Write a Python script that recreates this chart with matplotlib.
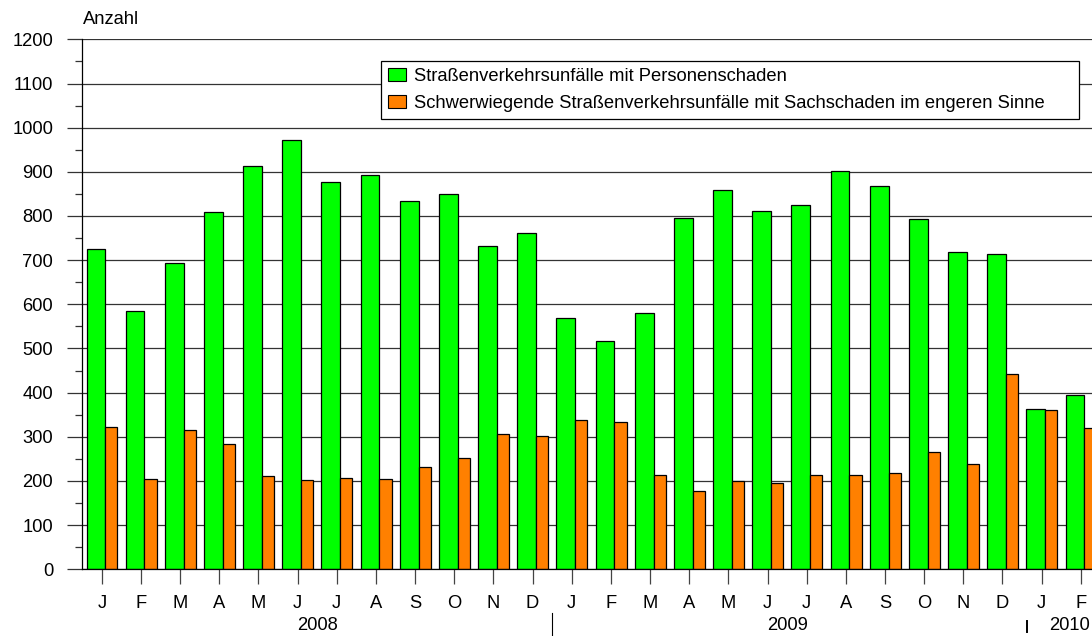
import matplotlib
matplotlib.use("Agg")
import matplotlib.pyplot as plt
from matplotlib.patches import Patch
from matplotlib.ticker import MultipleLocator

plt.rcParams['font.family'] = ['Liberation Sans', 'DejaVu Sans']

# ---- data ----
months = ["J", "F", "M", "A", "M", "J", "J", "A", "S", "O", "N", "D",
          "J", "F", "M", "A", "M", "J", "J", "A", "S", "O", "N", "D",
          "J", "F"]
personen = [725, 584, 694, 808, 914, 972, 876, 893, 834, 849, 732, 761,
            568, 518, 581, 795, 860, 811, 824, 902, 869, 793, 718, 713,
            362, 395]
sachschaden = [321, 205, 315, 283, 210, 202, 207, 205, 232, 253, 306, 301,
               338, 333, 214, 178, 199, 195, 213, 213, 218, 265, 239, 441,
               360, 319]
years = ["2008", "2009", "2010"]
year_pos = [5.5, 17.5, 24.72]
year_sep = [11.5, 23.62]
label_g = "Straßenverkehrsunfälle mit Personenschaden"
label_o = "Schwerwiegende Straßenverkehrsunfälle mit Sachschaden im engeren Sinne"

GREEN = "#00ff00"
ORANGE = "#ff8000"
FS = 13.25

W, H = 1092, 636
fig = plt.figure(figsize=(W / 100, H / 100), dpi=100)
ax_left, ax_right, ax_top, ax_bot = 82, 1092, 39.4, 569.2
ax = fig.add_axes([ax_left / W, 1 - ax_bot / H, (ax_right - ax_left) / W, (ax_bot - ax_top) / H])

x = list(range(len(months)))
ax.bar([i - 0.39 for i in x], personen, width=0.48, align='edge', color=GREEN,
       edgecolor='black', linewidth=0.9, zorder=3)
ax.bar([i + 0.09 for i in x], sachschaden, width=0.31, align='edge', color=ORANGE,
       edgecolor='black', linewidth=0.9, zorder=3)

ax.set_ylim(0, 1200)
ax.set_xlim(-0.5056, 25.286)

# y axis
ax.yaxis.set_major_locator(MultipleLocator(100))
ax.yaxis.set_minor_locator(MultipleLocator(50))
ax.tick_params(axis='y', which='major', length=10.8, width=0.9, color='#333333',
               labelsize=FS, pad=10)
ax.tick_params(axis='y', which='minor', length=5, width=0.9, color='#333333')
ax.grid(axis='y', which='major', color='#333333', linewidth=0.9, zorder=0)

# x axis
ax.set_xticks(x)
ax.set_xticklabels([])
ax.tick_params(axis='x', which='major', length=10.8, width=0.9, color='#444444')
ax.tick_params(axis='x', which='minor', length=0)

for s in ['top', 'right']:
    ax.spines[s].set_visible(False)
ax.spines['left'].set_linewidth(0.9)
ax.spines['bottom'].set_linewidth(0.9)
ax.spines['left'].set_zorder(4)
ax.spines['bottom'].set_zorder(4)

ph = ax_bot - ax_top  # pixel height of axes


def yfrac(py):
    return (ax_bot - py) / ph


xtr = ax.get_xaxis_transform()
for i, m in enumerate(months):
    ax.text(i, yfrac(603.5), m, ha='center', va='center', fontsize=FS,
            transform=xtr, clip_on=False)
for p, yl in zip(year_pos, years):
    ax.text(p, yfrac(625.5), yl, ha='center', va='center', fontsize=FS,
            transform=xtr, clip_on=False)
ax.plot([year_sep[0], year_sep[0]], [yfrac(613), yfrac(636)], color='black',
        linewidth=0.8, transform=xtr, clip_on=False)
ax.plot([year_sep[1], year_sep[1]], [yfrac(621), yfrac(632)], color='black',
        linewidth=1.4, transform=xtr, clip_on=False)

# "Anzahl"
fig.text(83 / W, 1 - 20 / H, "Anzahl", ha='left', va='center', fontsize=FS)

# legend
handles = [Patch(facecolor=GREEN, edgecolor='black', linewidth=0.8),
           Patch(facecolor=ORANGE, edgecolor='black', linewidth=0.8)]
lx0, ly0, lx1, ly1 = 381, 60.5, 1079, 114.5
leg = fig.legend(handles, [label_g, label_o], loc='upper left',
                 bbox_to_anchor=(lx0 / W, 1 - ly1 / H, (lx1 - lx0) / W, (ly1 - ly0) / H),
                 mode='expand', borderaxespad=0, fontsize=FS, frameon=True,
                 fancybox=False, edgecolor='black', framealpha=1,
                 handlelength=0.95, handleheight=0.7, handletextpad=0.45,
                 labelspacing=0.55, borderpad=0.4)
leg.get_frame().set_linewidth(0.9)

fig.savefig("out.png", dpi=100)
